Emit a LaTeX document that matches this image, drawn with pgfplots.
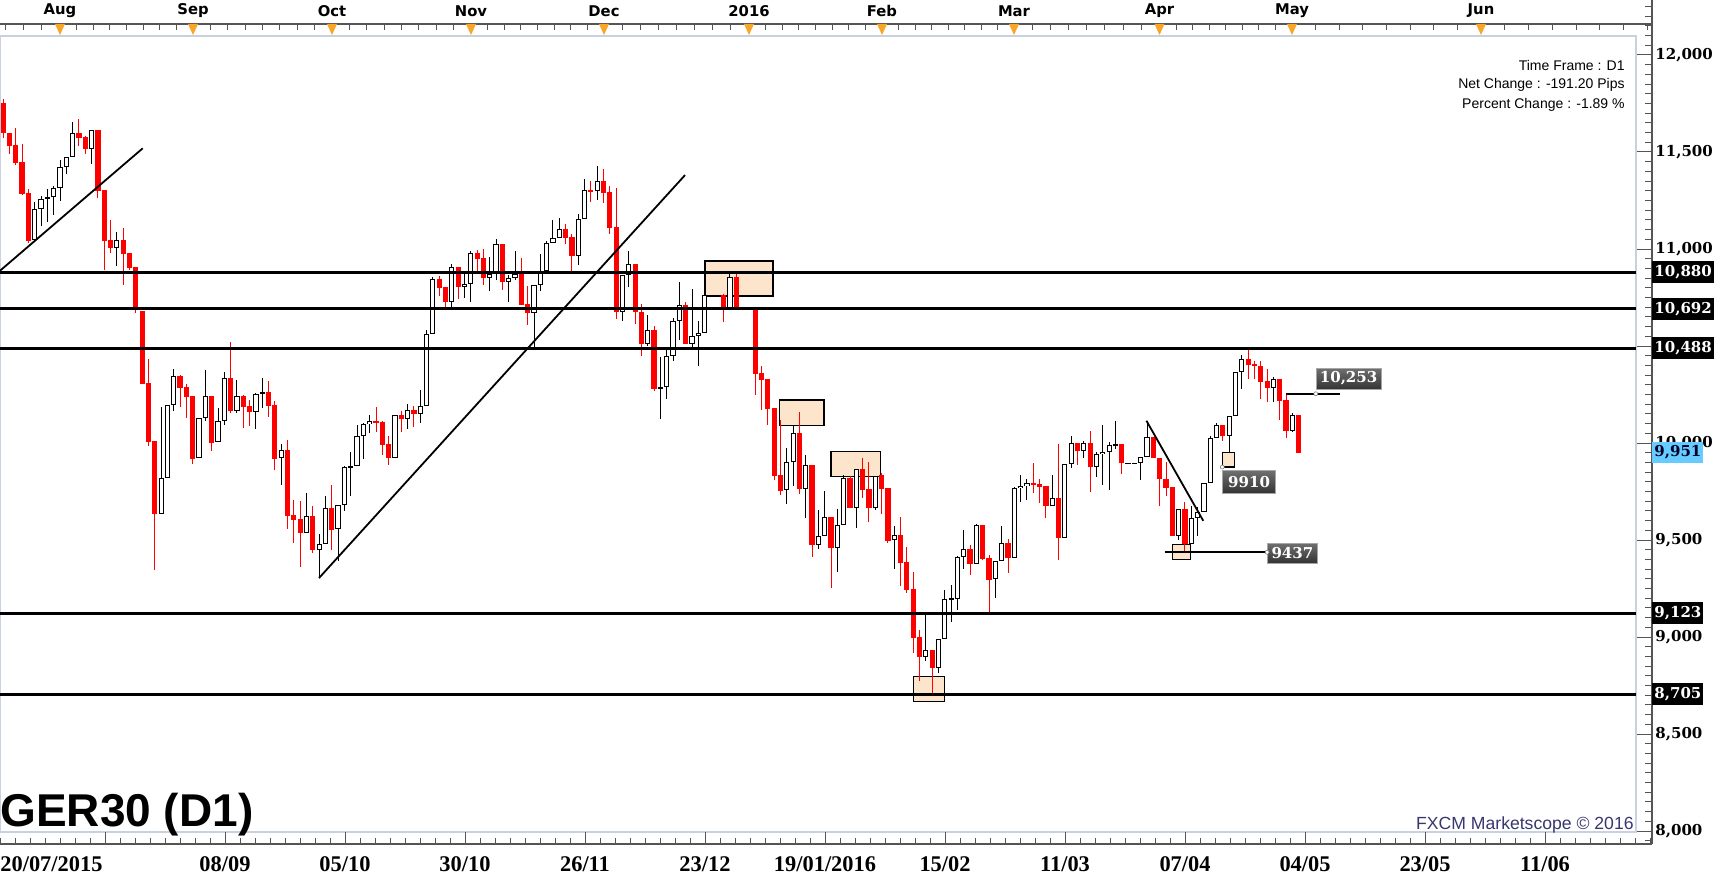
\documentclass[border=0pt]{standalone}
\usepackage{pgfplots}
\pgfplotsset{compat=1.18}
\usepackage{pgfplotstable}
\usepackage{fontspec}
\setmainfont{Liberation Sans}
\newfontfamily\dvsans{DejaVu Sans}
\newfontfamily\dvserif{DejaVu Serif}
\newfontfamily\libserif{Liberation Serif}
\definecolor{candlered}{RGB}{255,0,0}
\definecolor{peach}{RGB}{253,229,204}
\definecolor{framec}{RGB}{200,210,222}
\definecolor{orangetri}{RGB}{247,166,40}
\definecolor{lblue}{RGB}{102,204,255}
\definecolor{wm}{RGB}{55,55,110}
\definecolor{axc}{RGB}{85,85,85}
\definecolor{boxtop}{RGB}{112,112,112}
\definecolor{boxbot}{RGB}{52,52,52}
\newcommand{\fs}[1]{\fontsize{#1pt}{#1pt}\selectfont}

% down (red) candles: slot index, open, high, low, close
\pgfplotstableread{
i O H L C
-9 11751 11773 11570 11596
-8 11596 11596 11488 11533
-7 11534 11624 11433 11445
-6 11447 11539 11278 11283
-5 11289 11309 11029 11043
3 11596 11670 11533 11574
4 11577 11582 11488 11513
6 11611 11611 11264 11300
7 11302 11302 10892 11043
8 11046 11149 10981 11003
10 11046 11106 10814 10976
11 10979 10979 10890 10904
12 10907 10907 10672 10691
13 10682 10682 10306 10306
14 10309 10433 9986 10007
15 10010 10010 9346 9636
19 10344 10351 10187 10285
20 10289 10304 10131 10239
21 10242 10242 9890 9919
24 10242 10242 9961 10002
27 10333 10521 10156 10167
29 10240 10247 10079 10187
30 10189 10222 10089 10158
33 10261 10320 10136 10193
34 10196 10217 9861 9918
36 9963 10016 9557 9626
37 9629 9707 9487 9605
38 9609 9701 9363 9538
40 9622 9676 9435 9451
43 9664 9784 9451 9554
50 10112 10186 10059 10105
51 10109 10114 9940 9992
52 9995 10036 9887 9921
54 10143 10165 10059 10122
56 10169 10191 10081 10148
60 10844 10861 10760 10801
61 10804 10804 10694 10729
63 10906 10906 10744 10806
66 10978 10995 10883 10950
67 10954 11002 10815 10852
70 11024 11024 10789 10832
73 10870 10955 10713 10713
74 10716 10809 10608 10672
80 11101 11129 11026 11058
81 11060 11077 10888 10966
84 11302 11350 11244 11297
86 11349 11412 11239 11290
87 11294 11325 11077 11110
88 11113 11314 10639 10677
91 10921 10921 10615 10677
92 10677 10716 10450 10512
94 10581 10603 10270 10280
99 10710 10727 10512 10512
105 10761 10768 10625 10692
107 10854 10871 10692 10692
110 10691 10691 10247 10357
111 10361 10397 10170 10326
112 10330 10330 10093 10177
113 10180 10180 9809 9832
114 9835 10119 9732 9755
117 10050 10158 9739 9765
119 9885 9885 9414 9476
122 9617 9617 9255 9461
125 9818 9830 9667 9667
127 9865 9923 9718 9760
128 9763 9902 9595 9667
130 9835 9844 9634 9765
131 9768 9768 9487 9495
133 9524 9619 9265 9384
134 9387 9464 9229 9244
135 9248 9337 8920 8997
136 9000 9036 8775 8899
138 8933 8933 8710 8842
144 9452 9476 9320 9378
146 9576 9576 9397 9402
147 9406 9423 9131 9294
150 9483 9505 9332 9409
154 9792 9895 9744 9786
155 9789 9813 9693 9775
156 9778 9778 9615 9677
158 9715 9993 9397 9512
161 9998 9998 9887 9961
163 9998 10062 9749 9878
168 9993 9993 9840 9895
173 10033 10033 9925 9925
174 9925 9925 9677 9816
175 9816 9900 9729 9770
176 9773 9773 9522 9522
178 9658 9694 9440 9478
184 10091 10091 10012 10036
188 10431 10479 10332 10404
189 10406 10423 10332 10397
190 10397 10423 10225 10316
191 10320 10380 10213 10285
193 10328 10328 10119 10218
194 10222 10251 10028 10064
196 10143 10143 9951 9951
}\downtab

% up (hollow) candles
\pgfplotstableread{
i O H L C
-4 11046 11240 11046 11204
-3 11204 11271 11120 11256
-2 11256 11309 11141 11266
-1 11266 11324 11175 11312
0 11312 11457 11249 11421
1 11421 11472 11385 11472
2 11472 11654 11472 11596
5 11513 11611 11436 11611
9 11003 11087 10914 11044
16 9636 10187 9636 9818
17 9818 10194 9818 10194
18 10194 10382 10167 10344
22 9921 10127 9921 10127
23 10127 10376 10115 10240
25 10004 10180 10004 10112
26 10112 10366 10095 10333
28 10167 10323 10156 10240
31 10158 10256 10070 10251
32 10251 10333 10179 10261
35 9921 9995 9784 9963
39 9538 9743 9538 9622
41 9451 9531 9303 9478
42 9478 9727 9478 9664
44 9555 9679 9394 9679
45 9679 9882 9652 9875
46 9875 9954 9727 9880
47 9880 10093 9880 10035
48 10035 10102 9916 10097
49 10097 10143 10050 10112
53 9921 10143 9921 10143
55 10122 10201 10071 10169
57 10148 10273 10105 10189
58 10189 10581 10189 10560
59 10560 10856 10560 10844
62 10729 10923 10694 10906
64 10806 10883 10749 10818
65 10818 10990 10729 10978
68 10852 10959 10785 10873
69 10873 11052 10840 11024
71 10832 10866 10729 10849
72 10849 10990 10840 10870
75 10672 10813 10497 10813
76 10813 10974 10785 10888
77 10888 11041 10888 11029
78 11029 11149 11029 11055
79 11055 11158 11055 11101
82 10966 11180 10917 11153
83 11153 11359 11153 11302
85 11297 11428 11253 11349
89 10677 10866 10631 10866
90 10866 10990 10806 10921
93 10512 10660 10500 10581
95 10280 10442 10125 10287
96 10287 10479 10229 10447
97 10447 10643 10425 10627
98 10627 10830 10531 10710
100 10512 10794 10478 10552
101 10552 10627 10399 10567
102 10567 10761 10567 10761
103 10760 10760 10760 10760
104 10760 10760 10760 10760
106 10692 10871 10692 10854
108 10692 10692 10692 10692
109 10692 10692 10692 10692
115 9756 9974 9688 9901
116 9901 10090 9779 10050
118 9765 9938 9615 9885
120 9476 9655 9456 9523
121 9523 9753 9523 9617
123 9461 9660 9337 9576
124 9576 9835 9576 9818
126 9667 9865 9564 9865
129 9667 9832 9657 9832
132 9499 9572 9353 9524
137 8899 9117 8878 8933
139 8842 8988 8813 8988
140 8988 9243 8988 9195
141 9195 9268 9079 9198
142 9198 9418 9139 9413
143 9413 9552 9351 9452
145 9378 9583 9378 9576
148 9298 9394 9203 9394
149 9394 9572 9394 9483
151 9409 9772 9409 9767
152 9767 9835 9696 9780
153 9780 9815 9706 9792
157 9677 9835 9677 9715
159 9512 9890 9512 9890
160 9890 10036 9873 9998
162 9961 10010 9921 9998
164 9878 9955 9823 9942
165 9942 10093 9784 9955
166 9955 10007 9758 9988
167 9988 10113 9967 9993
169 9895 9895 9895 9895
170 9895 9895 9895 9895
171 9895 9930 9809 9930
172 9930 10115 9930 10033
177 9522 9658 9500 9658
179 9478 9675 9478 9615
180 9615 9672 9522 9646
181 9646 9792 9646 9792
182 9792 10036 9792 10024
183 10024 10105 10024 10091
185 10036 10141 9952 10141
186 10141 10364 10141 10364
187 10364 10454 10277 10431
192 10285 10342 10213 10328
195 10064 10153 10058 10143
}\uptab

\pgfplotsset{candle/.style={draw=none, mark=none, forget plot, error bars/.cd, y dir=both, y explicit, error mark=none}}

\begin{document}
\begin{tikzpicture}
\path[use as bounding box] (0,0) rectangle (866.5pt,-438.5pt);
\begin{axis}[
  at={(0pt,-416pt)}, anchor=south west,
  scale only axis, width=818pt, height=398pt,
  xmin=-9.494, xmax=249.37, ymin=7995, ymax=12097.9,
  ticks=none, axis line style={draw=framec, line width=0.8pt},
  clip=false,
]
% highlight boxes
\addplot[draw=black, line width=0.6pt, fill=peach] coordinates {(102.06,10938) (112.82,10938) (112.82,10758) (102.06,10758)} --cycle;
\addplot[draw=black, line width=0.6pt, fill=peach] coordinates {(113.9,10222) (120.9,10222) (120.9,10091) (113.9,10091)} --cycle;
\addplot[draw=black, line width=0.6pt, fill=peach] coordinates {(122.0,9957) (129.8,9957) (129.8,9829) (122.0,9829)} --cycle;
\addplot[draw=black, line width=0.6pt, fill=peach] coordinates {(135.0,8797) (139.9,8797) (139.9,8667) (135.0,8667)} --cycle;
\addplot[draw=black, line width=0.6pt, fill=peach] coordinates {(176.0,9478) (178.9,9478) (178.9,9400) (176.0,9400)} --cycle;
\addplot[draw=black, line width=0.6pt, fill=peach] coordinates {(183.9,9952) (185.9,9952) (185.9,9876) (183.9,9876)} --cycle;

% wicks
\addplot[candle, error bar style={draw=candlered, line width=0.5pt}]
  table[x=i, y expr={(\thisrow{H}+\thisrow{L})/2}, y error expr={(\thisrow{H}-\thisrow{L})/2}] {\downtab};
\addplot[candle, error bar style={draw=black, line width=0.5pt}]
  table[x=i, y expr={(\thisrow{H}+\thisrow{L})/2}, y error expr={(\thisrow{H}-\thisrow{L})/2}] {\uptab};
% bodies
\addplot[candle, error bar style={draw=candlered, line width=2.6pt}]
  table[x=i, y expr={(\thisrow{O}+\thisrow{C})/2}, y error expr={max(abs(\thisrow{O}-\thisrow{C})/2,2.6)}] {\downtab};
\addplot[candle, error bar style={draw=black, line width=2.6pt}]
  table[x=i, y expr={(\thisrow{O}+\thisrow{C})/2}, y error expr={max(abs(\thisrow{O}-\thisrow{C})/2,2.6)}] {\uptab};
\addplot[candle, error bar style={draw=white, line width=1.6pt}]
  table[x=i, y expr={(\thisrow{O}+\thisrow{C})/2}, y error expr={max(abs(\thisrow{O}-\thisrow{C})/2-5.15,0)}] {\uptab};

% support / resistance levels
\addplot[black, line width=1.35pt] coordinates {(-9.494,10880) (249.37,10880)};
\addplot[black, line width=1.35pt] coordinates {(-9.494,10692) (249.37,10692)};
\addplot[black, line width=1.35pt] coordinates {(-9.494,10488) (249.37,10488)};
\addplot[black, line width=1.35pt] coordinates {(-9.494,9123) (249.37,9123)};
\addplot[black, line width=1.35pt] coordinates {(-9.494,8705) (249.37,8705)};
% trend lines
\addplot[black, line width=0.9pt] coordinates {(-9.494,10888) (13.09,11519)};
\addplot[black, line width=0.9pt] coordinates {(40.98,9304) (98.9,11381)};
\addplot[black, line width=0.9pt] coordinates {(171.9,10115) (180.9,9599)};
\addplot[black, line width=1pt] coordinates {(174.8,9437) (191.0,9437)};
\addplot[black, line width=1pt] coordinates {(194.0,10254) (202.5,10254)};

% price tags
\node[anchor=west, inner sep=0pt, minimum width=25pt, minimum height=10pt, top color=boxtop, bottom color=boxbot, draw=gray!70, line width=0.3pt, text=white, font=\dvserif\bfseries\fs{7.5}] at (axis cs:191.0,9433) {9437};
\node[anchor=north west, inner sep=0pt, minimum width=26.5pt, minimum height=11.5pt, top color=boxtop, bottom color=boxbot, draw=gray!70, line width=0.3pt, text=white, font=\dvserif\bfseries\fs{7.5}] at (axis cs:183.9,9861) {9910};
\node[anchor=west, inner sep=0pt, minimum width=32.5pt, minimum height=10.5pt, top color=boxtop, bottom color=boxbot, draw=gray!70, line width=0.3pt, text=white, font=\dvserif\bfseries\fs{7.5}] at (axis cs:198.7,10332) {10,253};
\filldraw[fill=white, draw=gray, line width=0.3pt] (axis cs:191.0,9437) circle (1pt);
\filldraw[fill=white, draw=gray, line width=0.3pt] (axis cs:183.9,9876) circle (1pt);
\filldraw[fill=white, draw=gray, line width=0.3pt] (axis cs:198.7,10254) circle (1pt);
\end{axis}

\begin{scope}[x=0.5pt, y=-0.5pt]
% top axis
\draw[axc, line width=0.6pt] (0,24) -- (1652,24);
\foreach \a/\b in {-85/60,60/193,193/332,332/471,471/604,604/749,749/882,882/1014,1014/1159.5,1159.5/1292,1292/1481,1481/1671}{
  \foreach \k in {1,...,7}{
    \draw[axc, line width=0.5pt] ({\a+\k*(\b-\a)/8},24) -- ({\a+\k*(\b-\a)/8},30);
  }
}
\foreach \m/\t in {60/Aug,193/Sep,332/Oct,471/Nov,604/Dec,749/2016,882/Feb,1014/Mar,1159.5/Apr,1292/May,1481/Jun}{
  \fill[orangetri] ({\m-5},24) -- ({\m+5},24) -- (\m,35) -- cycle;
  \node[inner sep=0pt, font=\dvsans\bfseries\fs{7.4}] at (\m,11) {\t};
}
% right axis
\draw[axc, line width=0.6pt] (1652,0) -- (1652,844);
\foreach \v in {7950,8000,...,12250}{
  \draw[axc, line width=0.5pt] (1645,{55+(12000-\v)*0.194}) -- (1652,{55+(12000-\v)*0.194});
}
\foreach \v in {8000,8500,...,12000}{
  \draw[axc, line width=0.5pt] (1637,{55+(12000-\v)*0.194}) -- (1652,{55+(12000-\v)*0.194});
}
\foreach \v/\t in {12000/{12,000},11500/{11,500},11000/{11,000},10000/{10,000},9500/{9,500},9000/{9,000},8500/{8,500},8000/{8,000}}{
  \node[anchor=west, inner sep=0pt, font=\dvserif\bfseries\fs{7.5}] at (1655,{55+(12000-\v)*0.194}) {\t};
}
\foreach \v/\t in {10880/{10,880},10692/{10,692},10488/{10,488},9123/{9,123},8705/{8,705}}{
  \node[anchor=west, inner xsep=1pt, inner ysep=0pt, minimum height=11pt, fill=black, text=white, font=\dvserif\bfseries\fs{7.5}] at (1652,{55+(12000-\v)*0.194}) {\t};
}
\node[anchor=west, inner xsep=1pt, inner ysep=0pt, minimum height=10.5pt, fill=lblue, text={rgb,255:red,0;green,0;blue,40}, font=\dvserif\bfseries\fs{7.5}] at (1652,{55+(12000-9951)*0.194}) {9,951};
% bottom axis
\draw[axc, line width=0.6pt] (0,844) -- (1652,844);
\foreach \x in {0,15,...,1650}{ \draw[axc, line width=0.5pt] (\x,844) -- (\x,838); }
\foreach \x in {105,225,...,1545}{ \draw[axc, line width=0.5pt] (\x,844) -- (\x,832); }
\begin{scope}[every node/.style={anchor=base, inner sep=0pt, font=\libserif\bfseries\fs{11.2}}]
\node[anchor=base west] at (0,871) {20/07/2015};
\node at (225,871) {08/09};
\node at (345,871) {05/10};
\node at (465,871) {30/10};
\node at (585,871) {26/11};
\node at (705,871) {23/12};
\node at (825,871) {19/01/2016};
\node at (945,871) {15/02};
\node at (1065,871) {11/03};
\node at (1185,871) {07/04};
\node at (1305,871) {04/05};
\node at (1425,871) {23/05};
\node at (1545,871) {11/06};
\end{scope}
% texts
\node[anchor=base west, inner sep=0pt, font=\bfseries\fs{23}] at (0,826) {GER30 (D1)};
\node[anchor=east, inner sep=0pt, font=\fs{7}] at (1625,65) {Time Frame : D1};
\node[anchor=east, inner sep=0pt, font=\fs{7}] at (1625,85) {Net Change : -191.20 Pips};
\node[anchor=east, inner sep=0pt, font=\fs{7}] at (1625,105) {Percent Change : -1.89 \%};
\node[anchor=base east, inner sep=0pt, text=wm, font=\fs{8.8}] at (1634,829) {FXCM Marketscope © 2016};
\end{scope}
\end{tikzpicture}
\end{document}
